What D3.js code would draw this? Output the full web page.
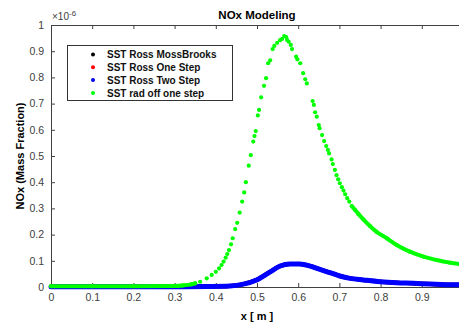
<!DOCTYPE html>
<html>
<head>
<meta charset="utf-8">
<script src="https://cdn.jsdelivr.net/npm/d3@7"></script>
<style>
  body { margin: 0; background: #fff; }
  svg { display: block; font-family: "Liberation Sans", Arial, sans-serif; }
</style>
</head>
<body>
<div id="chart"></div>
<script>
// series names, in legend order
var seriesNames = ["SST Ross MossBrooks", "SST Ross One Step", "SST Ross Two Step", "SST rad off one step"];
var seriesColors = ["#000000", "#ff0000", "#0000ff", "#00ff00"];

var xTicks = [0, 0.1, 0.2, 0.3, 0.4, 0.5, 0.6, 0.7, 0.8, 0.9, 1];
var yTicks = [0, 0.1, 0.2, 0.3, 0.4, 0.5, 0.6, 0.7, 0.8, 0.9, 1];

// values in units of 1e-6
var twoStepX = [0, 0.1, 0.2, 0.3, 0.38, 0.434, 0.467, 0.499, 0.532, 0.556, 0.58, 0.604, 0.629, 0.653, 0.677, 0.701, 0.726, 0.758, 0.799, 0.839, 0.879, 0.92, 0.96, 1.0];
var twoStepY = [0.001, 0.001, 0.001, 0.001, 0.002, 0.004, 0.011, 0.027, 0.058, 0.080, 0.088, 0.088, 0.080, 0.067, 0.055, 0.042, 0.033, 0.027, 0.020, 0.016, 0.014, 0.011, 0.009, 0.008];

// the black and red runs sit under the blue one
var mossBrooksX = twoStepX, mossBrooksY = twoStepY;
var oneStepX = twoStepX, oneStepY = twoStepY;

var radOffX = [0, 0.1, 0.2, 0.3, 0.32, 0.34, 0.35, 0.362, 0.378, 0.39, 0.4, 0.408, 0.414, 0.419, 0.424, 0.428, 0.432, 0.437, 0.441, 0.447, 0.452, 0.458, 0.464, 0.469, 0.473, 0.48, 0.485,
  0.491, 0.494, 0.497, 0.502, 0.505, 0.51, 0.517, 0.522, 0.527, 0.532, 0.538, 0.542, 0.549, 0.556, 0.561, 0.566, 0.571, 0.573, 0.577, 0.582, 0.585,
  0.595, 0.598, 0.605, 0.612, 0.617, 0.621, 0.635, 0.638, 0.641, 0.645, 0.65, 0.652, 0.658, 0.663, 0.668, 0.672, 0.675, 0.681, 0.684, 0.689, 0.693,
  0.697, 0.701, 0.706, 0.71, 0.714, 0.719, 0.724, 0.73, 0.738, 0.746, 0.758, 0.774, 0.79, 0.815, 0.839, 0.871, 0.904, 0.936, 0.968, 1.0];
var radOffY = [0.003, 0.003, 0.003, 0.004, 0.006, 0.010, 0.014, 0.020, 0.033, 0.046, 0.058, 0.071, 0.084, 0.097, 0.112, 0.126, 0.141, 0.163, 0.186, 0.221, 0.245, 0.284, 0.326, 0.361, 0.400, 0.463, 0.503,
  0.555, 0.576, 0.595, 0.655, 0.676, 0.724, 0.768, 0.797, 0.854, 0.865, 0.908, 0.920, 0.932, 0.942, 0.947, 0.958, 0.954, 0.943, 0.936, 0.924, 0.908,
  0.879, 0.869, 0.854, 0.816, 0.793, 0.777, 0.710, 0.695, 0.667, 0.650, 0.618, 0.606, 0.580, 0.557, 0.538, 0.523, 0.510, 0.487, 0.469, 0.447, 0.427,
  0.411, 0.396, 0.381, 0.368, 0.354, 0.339, 0.326, 0.309, 0.294, 0.279, 0.258, 0.233, 0.211, 0.186, 0.160, 0.135, 0.116, 0.103, 0.093, 0.086];

var W = 459, H = 326;
var margin = {top: 25, left: 51, bottom: 39};
var plotW = 412, plotH = H - margin.top - margin.bottom;

var svg = d3.select("#chart").append("svg")
  .attr("width", W).attr("height", H);

var x = d3.scaleLinear().domain([0, 1]).range([margin.left, margin.left + plotW]);
var y = d3.scaleLinear().domain([0, 1]).range([margin.top + plotH, margin.top]);

var axisColor = "#404040";

// axes (MATLAB box with inward ticks); the figure is cropped just before x = 1
var gx = svg.append("g").attr("transform", "translate(0," + y(0) + ")")
  .call(d3.axisBottom(x).tickValues(xTicks).tickSizeInner(-4).tickSizeOuter(0).tickPadding(7)
    .tickFormat(function(d) { return d === 1 ? "" : d3.format("")(d); }));
var gxTop = svg.append("g").attr("transform", "translate(0," + y(1) + ")")
  .call(d3.axisTop(x).tickValues(xTicks).tickSizeInner(-4).tickSizeOuter(0).tickFormat(""));
var gy = svg.append("g").attr("transform", "translate(" + x(0) + ",0)")
  .call(d3.axisLeft(y).tickValues(yTicks).tickSizeInner(-4).tickSizeOuter(0).tickPadding(7)
    .tickFormat(function(d) { return d3.format("")(d); }));
var gyRight = svg.append("g").attr("transform", "translate(" + x(1) + ",0)")
  .call(d3.axisRight(y).tickValues(yTicks).tickSizeInner(-4).tickSizeOuter(0).tickFormat(""));

[gx, gxTop, gy, gyRight].forEach(function(g) {
  g.selectAll("path, line").attr("stroke", axisColor).attr("stroke-width", 1);
  g.selectAll("text").attr("fill", axisColor).style("font-size", "10.5px");
});
gx.selectAll(".tick").filter(function(d) { return d === 0; }).select("line").remove();
gy.selectAll(".tick").filter(function(d) { return d === 0; }).select("line").remove();

// exponent label
var ex = svg.append("text").attr("x", x(0) + 1).attr("y", 20)
  .attr("fill", axisColor).style("font-size", "10px");
ex.append("tspan").text("\u00d710");
ex.append("tspan").attr("dy", -4).style("font-size", "8px").text("-6");

// series
function band(xs, ys, color, width, keep) {
  var pts = xs.map(function(v, i) { return [v, ys[i]]; }).filter(keep);
  svg.append("path").datum(pts)
    .attr("fill", "none").attr("stroke", color).attr("stroke-width", width)
    .attr("stroke-linecap", "round").attr("stroke-linejoin", "round")
    .attr("d", d3.line().curve(d3.curveMonotoneX)
      .x(function(d) { return x(d[0]); }).y(function(d) { return y(d[1]); }));
}

var all = function() { return true; };
band(mossBrooksX, mossBrooksY, seriesColors[0], 4, all);
band(oneStepX, oneStepY, seriesColors[1], 4, all);
band(twoStepX, twoStepY, seriesColors[2], 5, all);

// green: markers overlap into a band where the mesh is fine
band(radOffX, radOffY, seriesColors[3], 4, function(d) { return d[0] <= 0.35; });
band(radOffX, radOffY, seriesColors[3], 4, function(d) { return d[0] >= 0.73; });
svg.append("g").selectAll("circle")
  .data(radOffX.map(function(v, i) { return [v, radOffY[i]]; }))
  .enter().append("circle")
  .attr("cx", function(d) { return x(d[0]); })
  .attr("cy", function(d) { return y(d[1]); })
  .attr("r", 2.1)
  .attr("fill", seriesColors[3]);

// title and labels
svg.append("text").attr("x", x(0.5)).attr("y", 19).attr("text-anchor", "middle")
  .style("font-size", "11.5px").style("font-weight", "bold").text("NOx Modeling");
svg.append("text").attr("x", x(0.5)).attr("y", 320).attr("text-anchor", "middle")
  .style("font-size", "11px").style("font-weight", "bold").text("x [ m ]");
svg.append("text").attr("transform", "translate(24," + y(0.5) + ") rotate(-90)")
  .attr("text-anchor", "middle")
  .style("font-size", "11px").style("font-weight", "bold").text("NOx (Mass Fraction)");

// legend
var lg = svg.append("g");
lg.append("rect").attr("x", 67.5).attr("y", 45.5).attr("width", 165).attr("height", 55)
  .attr("fill", "#fff").attr("stroke", "#333").attr("stroke-width", 1);
seriesNames.forEach(function(name, i) {
  var cy = 54.5 + i * 12.8;
  lg.append("circle").attr("cx", 93).attr("cy", cy).attr("r", 2).attr("fill", seriesColors[i]);
  lg.append("text").attr("x", 107).attr("y", cy + 3.6)
    .style("font-size", "10px").style("font-weight", "bold").attr("fill", "#111").text(name);
});
</script>
</body>
</html>
